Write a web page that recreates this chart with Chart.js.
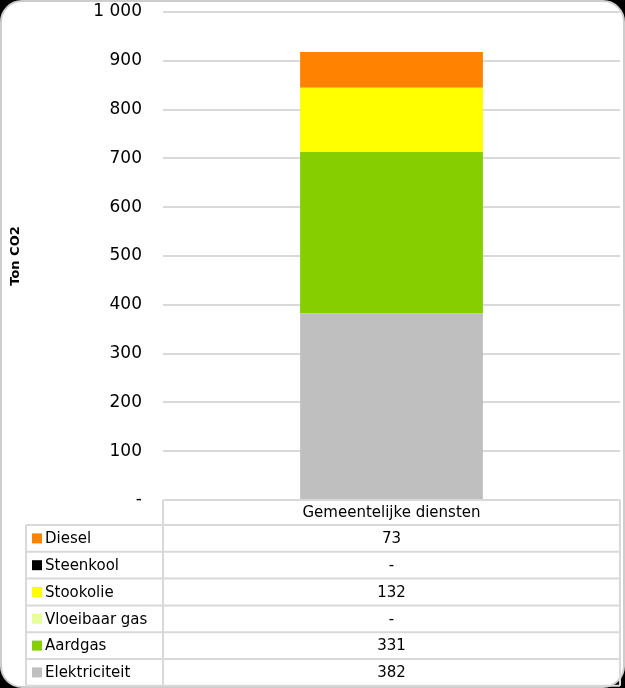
<!DOCTYPE html>
<html>
<head>
<meta charset="utf-8">
<script src="https://cdn.jsdelivr.net/npm/chart.js@4/dist/chart.umd.min.js"></script>
<style>
  html, body { margin: 0; padding: 0; background: #000; overflow: hidden; }
  #wrap { position: relative; width: 625px; height: 688px; overflow: hidden; background: #000; }
  #inner { position: absolute; left: 0; top: 0; width: 625px; height: 688px; box-sizing: border-box;
           background: #fff; border: 2px solid #cdcdcd; border-radius: 22px; }
  #c { position: absolute; left: 0; top: 0; }
</style>
</head>
<body>
<div id="wrap">
  <div id="inner"></div>
  <canvas id="c" width="625" height="688"></canvas>
</div>
<script>
const categories = ['Gemeentelijke diensten'];
const seriesNames = ['Elektriciteit', 'Aardgas', 'Vloeibaar gas', 'Stookolie', 'Steenkool', 'Diesel'];
const elektriciteit = [382];
const aardgas = [331];
const vloeibaarGas = [0];
const stookolie = [132];
const steenkool = [0];
const diesel = [73];
const yTicks = [0, 100, 200, 300, 400, 500, 600, 700, 800, 900, 1000];
const seriesColors = ['#BFBFBF', '#86CE00', '#E6FF9A', '#FFFF00', '#000000', '#FF8200'];

const seriesValues = [elektriciteit, aardgas, vloeibaarGas, stookolie, steenkool, diesel];
const FONT = '"DejaVu Sans", sans-serif';

function fmt(v) {
  if (v === 0) return '-';
  return String(v).replace(/\B(?=(\d{3})+(?!\d))/g, ' ');
}

const tablePlugin = {
  id: 'dataTable',
  afterDraw(chart) {
    const ctx = chart.ctx;
    const ca = chart.chartArea;
    const xs = chart.scales.x;
    const left = 26, colL = ca.left, right = ca.right;
    const top = ca.bottom;
    const headerH = 25;
    const rowH = 26.8;
    const n = seriesNames.length;
    const bottom = top + headerH + rowH * n;
    ctx.save();
    ctx.strokeStyle = '#D9D9D9';
    ctx.lineWidth = 2;
    ctx.beginPath();
    ctx.moveTo(colL, top); ctx.lineTo(colL, bottom);
    ctx.moveTo(right, top); ctx.lineTo(right, bottom);
    ctx.moveTo(left, top + headerH); ctx.lineTo(left, bottom);
    for (let i = 0; i <= n; i++) {
      const y = top + headerH + rowH * i;
      ctx.moveTo(left, y); ctx.lineTo(right, y);
    }
    ctx.stroke();

    ctx.fillStyle = '#000';
    ctx.font = '15px ' + FONT;
    ctx.textBaseline = 'middle';
    ctx.textAlign = 'center';
    categories.forEach((c, ci) => {
      ctx.fillText(c, xs.getPixelForValue(ci), top + headerH / 2 + 1);
    });
    for (let r = 0; r < n; r++) {
      const di = n - 1 - r;
      const yc = top + headerH + rowH * r + rowH / 2 + 1;
      ctx.fillStyle = seriesColors[di];
      ctx.fillRect(32, yc - 6, 10, 10);
      ctx.fillStyle = '#000';
      ctx.textAlign = 'left';
      ctx.fillText(seriesNames[di], 45, yc);
      ctx.textAlign = 'center';
      categories.forEach((c, ci) => {
        ctx.fillText(fmt(seriesValues[di][ci]), xs.getPixelForValue(ci), yc);
      });
    }
    ctx.restore();
  }
};

new Chart(document.getElementById('c'), {
  type: 'bar',
  data: {
    labels: categories,
    datasets: seriesNames.map((name, i) => ({
      label: name,
      data: seriesValues[i],
      backgroundColor: seriesColors[i],
      borderWidth: 0,
      barPercentage: 0.4,
      categoryPercentage: 1.0
    }))
  },
  options: {
    responsive: false,
    devicePixelRatio: 1,
    animation: false,
    layout: { padding: { left: 0, right: 5, top: 12, bottom: 188 } },
    plugins: { legend: { display: false }, tooltip: { enabled: false } },
    scales: {
      x: { stacked: true, display: false },
      y: {
        stacked: true,
        min: 0, max: 1000,
        afterFit(scale) { scale.width = 163; },
        afterBuildTicks(scale) { scale.ticks = yTicks.map(v => ({ value: v })); },
        border: { display: false },
        grid: { color: '#D9D9D9', lineWidth: 2, drawTicks: true, tickLength: 21, tickColor: 'rgba(0,0,0,0)' },
        ticks: {
          padding: 0,
          color: '#000',
          font: { family: FONT, size: 17 },
          callback: (v) => fmt(v)
        },
        title: {
          display: true,
          text: 'Ton CO2',
          color: '#000',
          font: { family: FONT, size: 13, weight: 'bold' },
          padding: { top: 8, bottom: 0 }
        }
      }
    }
  },
  plugins: [tablePlugin]
});
</script>
</body>
</html>
